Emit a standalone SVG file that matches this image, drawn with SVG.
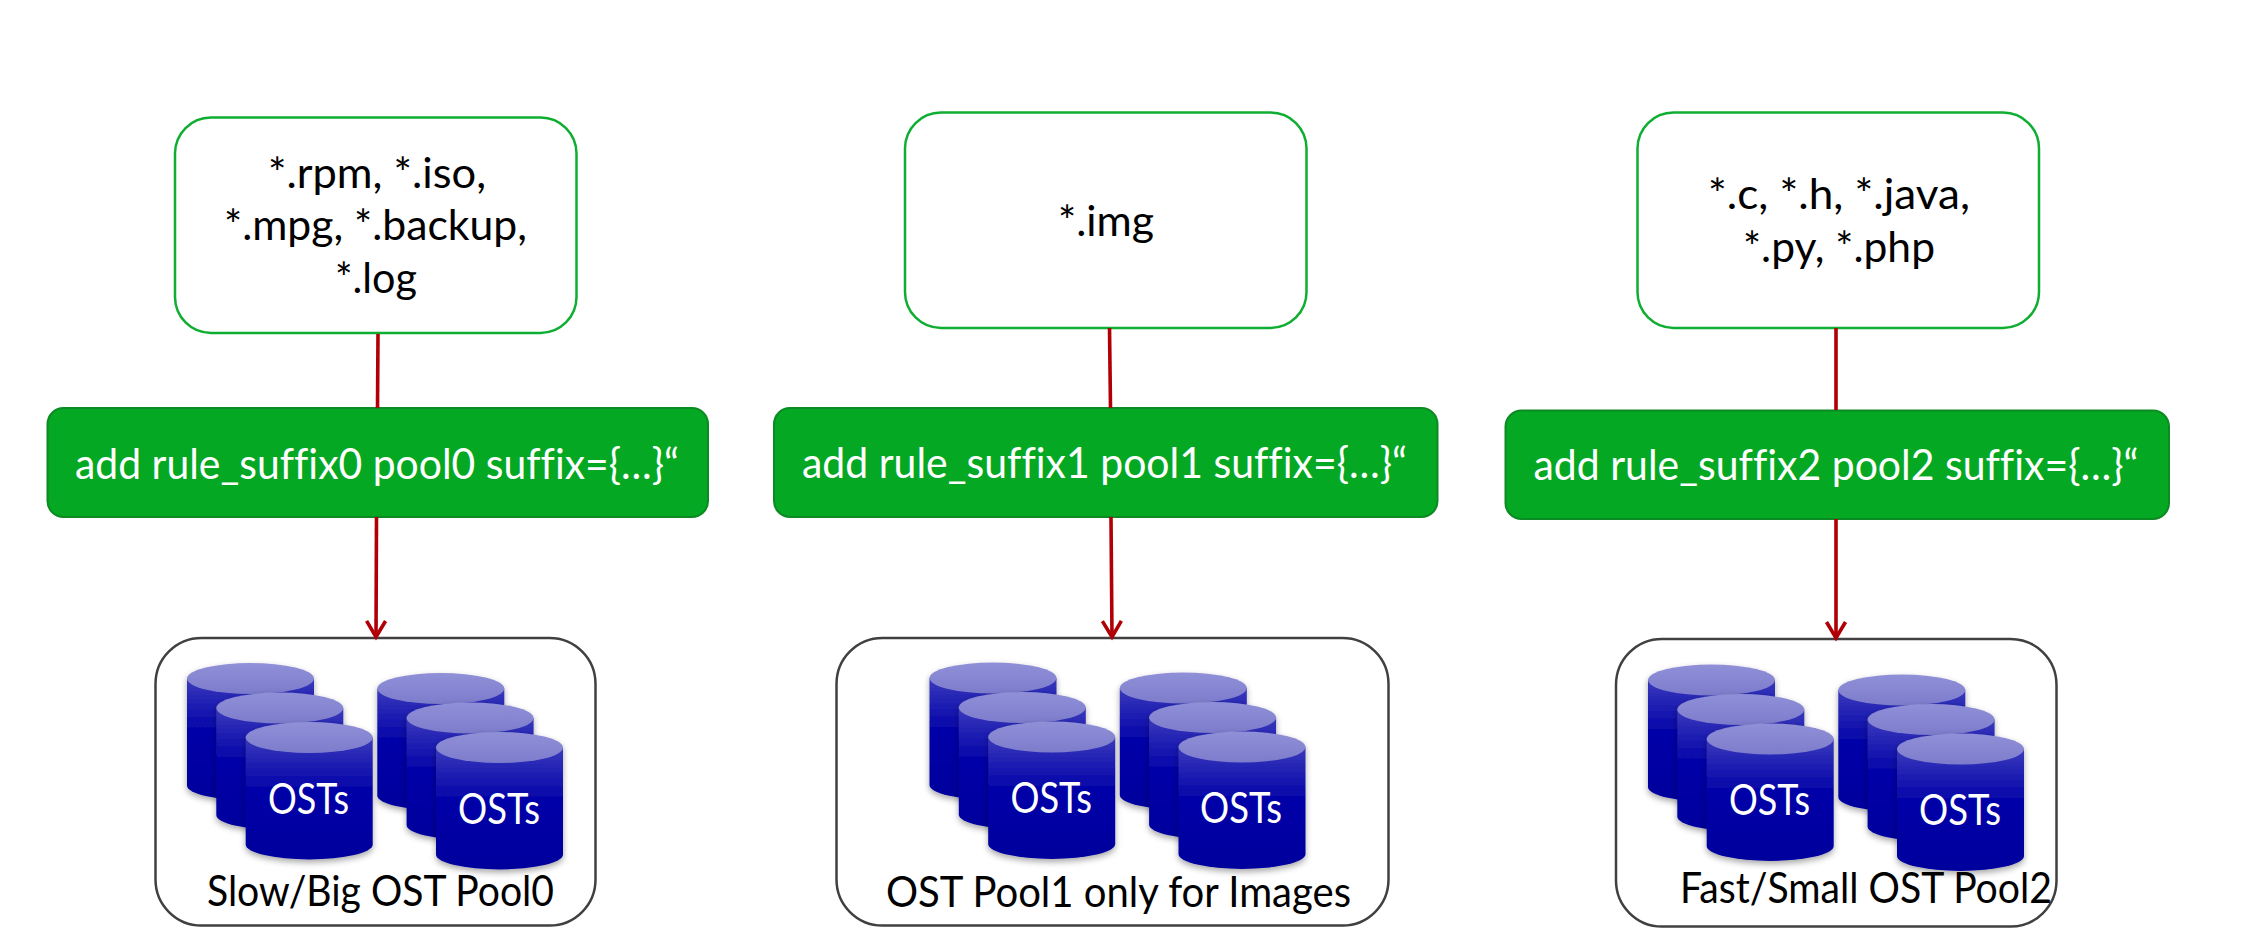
<svg xmlns="http://www.w3.org/2000/svg" xmlns:xlink="http://www.w3.org/1999/xlink" width="2244" height="950" viewBox="0 0 2244 950">
<style>
text{font-family:"Lato","Carlito","Open Sans",sans-serif;text-anchor:start;font-variant-ligatures:none}
.suffix{fill:#fff;stroke:#0fae32;stroke-width:2.5}
.rule{fill:#04a822;stroke:#0c8a24;stroke-width:2}
.pool{fill:#fff;stroke:#404040;stroke-width:2.5}
.t{font-size:43px;fill:#000}
.w{font-size:43px;fill:#fff}
.conn{fill:none;stroke:#b00006;stroke-width:3.6}
</style>
<defs>
<linearGradient id="body" x1="0" y1="0" x2="0" y2="1"><stop offset="0" stop-color="#3a3abc"/><stop offset="0.45" stop-color="#0000a8"/><stop offset="1" stop-color="#00009c"/></linearGradient>
<linearGradient id="lid" x1="0" y1="0" x2="0" y2="1"><stop offset="0" stop-color="#9090d8"/><stop offset="1" stop-color="#7c7ccc"/></linearGradient>
<filter id="sh" x="-20%" y="-20%" width="140%" height="140%"><feDropShadow dx="0" dy="3" stdDeviation="3" flood-color="#000" flood-opacity="0.35"/></filter>
<g id="cyl" filter="url(#sh)">
<path d="M0 15V122A63.5 15 0 0 0 127 122V15Z" fill="url(#body)"/>
<ellipse cx="63.5" cy="15" rx="63.5" ry="15.5" fill="url(#lid)"/>
</g>
<g id="stack">
<use xlink:href="#cyl" href="#cyl" x="0" y="0"/>
<use xlink:href="#cyl" href="#cyl" x="29.3" y="29.5"/>
<use xlink:href="#cyl" href="#cyl" x="58.7" y="59"/>
<use xlink:href="#cyl" href="#cyl" x="190.3" y="10"/>
<use xlink:href="#cyl" href="#cyl" x="219.6" y="39.5"/>
<use xlink:href="#cyl" href="#cyl" x="249" y="69"/>
</g>
<marker id="arrow" markerUnits="userSpaceOnUse" markerWidth="26" markerHeight="24" refX="20" refY="12" orient="auto">
<path d="M3 2.5L19 12L3 21.5" fill="none" stroke="#b00006" stroke-width="3.6"/>
</marker>
</defs>
<rect width="2244" height="950" fill="#fff"/>

<g id="suffix0"><rect class="suffix" x="175" y="117.5" width="401.5" height="215.5" rx="36"/>
<text class="t" x="268" y="188" textLength="218" lengthAdjust="spacingAndGlyphs">*.rpm, *.iso,</text>
<text class="t" x="224" y="240" textLength="303" lengthAdjust="spacingAndGlyphs">*.mpg, *.backup,</text>
<text class="t" x="335" y="293" textLength="82" lengthAdjust="spacingAndGlyphs">*.log</text></g>
<g id="suffix1"><rect class="suffix" x="905" y="112.5" width="401.5" height="215.5" rx="36"/>
<text class="t" x="1058" y="236" textLength="96" lengthAdjust="spacingAndGlyphs">*.img</text></g>
<g id="suffix2"><rect class="suffix" x="1637.5" y="112.5" width="401.5" height="215.5" rx="36"/>
<text class="t" x="1708" y="209" textLength="262" lengthAdjust="spacingAndGlyphs">*.c, *.h, *.java,</text>
<text class="t" x="1743" y="262" textLength="192" lengthAdjust="spacingAndGlyphs">*.py, *.php</text></g>

<g id="rule0"><rect class="rule" x="47.5" y="408" width="660.5" height="109" rx="16"/>
<text class="w" x="75" y="479" textLength="604" lengthAdjust="spacingAndGlyphs">add rule_suffix0 pool0 suffix={…}“</text></g>
<g id="rule1"><rect class="rule" x="774" y="408" width="663.5" height="109" rx="16"/>
<text class="w" x="802" y="478" textLength="605" lengthAdjust="spacingAndGlyphs">add rule_suffix1 pool1 suffix={…}“</text></g>
<g id="rule2"><rect class="rule" x="1505.5" y="410.5" width="663.5" height="108.5" rx="16"/>
<text class="w" x="1533.5" y="480" textLength="605" lengthAdjust="spacingAndGlyphs">add rule_suffix2 pool2 suffix={…}“</text></g>

<g id="pool0"><rect class="pool" x="155.5" y="638" width="440" height="287.5" rx="46"/>
<use xlink:href="#stack" href="#stack" x="187" y="663.5"/>
<text class="w" x="268" y="814" textLength="81" lengthAdjust="spacingAndGlyphs">OSTs</text>
<text class="w" x="458" y="824" textLength="82" lengthAdjust="spacingAndGlyphs">OSTs</text>
<text class="t" x="207" y="906" textLength="347" lengthAdjust="spacingAndGlyphs">Slow/Big OST Pool0</text></g>
<g id="pool1"><rect class="pool" x="836.5" y="638" width="552" height="287.5" rx="46"/>
<use xlink:href="#stack" href="#stack" x="929.5" y="663"/>
<text class="w" x="1010.5" y="813" textLength="81.5" lengthAdjust="spacingAndGlyphs">OSTs</text>
<text class="w" x="1200" y="823" textLength="82" lengthAdjust="spacingAndGlyphs">OSTs</text>
<text class="t" x="886" y="907" textLength="465" lengthAdjust="spacingAndGlyphs">OST Pool1 only for Images</text></g>
<g id="pool2"><rect class="pool" x="1616" y="639" width="440.5" height="287.5" rx="46"/>
<use xlink:href="#stack" href="#stack" x="1648" y="665"/>
<text class="w" x="1729" y="815" textLength="81" lengthAdjust="spacingAndGlyphs">OSTs</text>
<text class="w" x="1919" y="825" textLength="82" lengthAdjust="spacingAndGlyphs">OSTs</text>
<text class="t" x="1680" y="903" textLength="372" lengthAdjust="spacingAndGlyphs">Fast/Small OST Pool2</text></g>

<g id="connectors">
<line class="conn" x1="378" y1="334" x2="377.5" y2="408"/>
<line class="conn" x1="376.5" y1="517" x2="376" y2="638" marker-end="url(#arrow)"/>
<line class="conn" x1="1109.5" y1="328" x2="1110.5" y2="408"/>
<line class="conn" x1="1111" y1="517" x2="1112" y2="638" marker-end="url(#arrow)"/>
<line class="conn" x1="1836" y1="328" x2="1836" y2="410"/>
<line class="conn" x1="1836" y1="519" x2="1836" y2="639" marker-end="url(#arrow)"/>
</g>
</svg>
